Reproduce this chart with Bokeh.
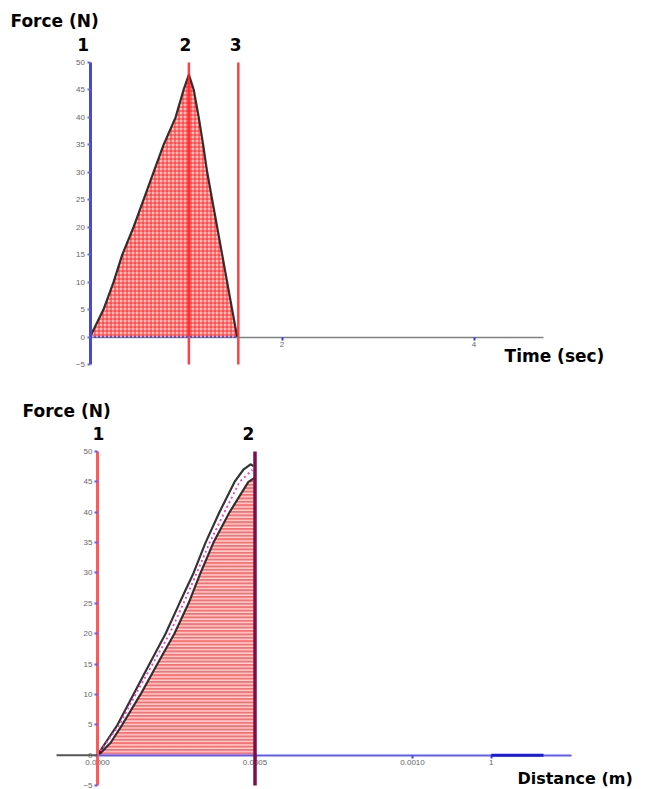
from bokeh.plotting import figure
from bokeh.layouts import column
from bokeh.models import Range1d, LinearAxis, FixedTicker, Label
from bokeh.embed import file_html
from bokeh.resources import INLINE

# ---- Impulse: force against time (triangular pulse) ----
time_rise = [0.0, 0.14, 0.245, 0.336, 0.453, 0.557, 0.661, 0.766, 0.891, 0.974, 1.03]
force_rise = [0, 5, 10, 15, 20, 25, 30, 35, 40, 45, 47.8]
time_fall = [1.081, 1.133, 1.179, 1.221, 1.273, 1.325, 1.377, 1.429, 1.481, 1.533]
force_fall = [45, 40, 35, 30, 25, 20, 15, 10, 5, 0]
time_markers = [0.0, 1.03, 1.545]
time_marker_names = ["1", "2", "3"]
time_ticks = [2, 4]
time_axis_end = 4.72

# ---- Work: force against distance ----
dist_upper = [0.0, 0.000025, 0.0000635, 0.000114, 0.000165, 0.000216, 0.000260,
              0.000305, 0.000343, 0.000387, 0.000435, 0.000463, 0.000486, 0.000495]
force_upper = [0, 2, 5, 10, 15, 20, 25, 30, 35, 40, 45, 47, 47.9, 47.6]
dist_mid = [0.0, 0.0000698, 0.000121, 0.000175, 0.000229, 0.000273, 0.000315,
            0.000356, 0.000403, 0.000451, 0.000492]
force_mid = [0, 5, 10, 15, 20, 25, 30, 35, 40, 45, 47]
dist_lower = [0.000003, 0.000041, 0.0000784, 0.0001365, 0.00019, 0.000244, 0.000289,
              0.000327, 0.000368, 0.000419, 0.000479, 0.0005]
force_lower = [0, 2, 5, 10, 15, 20, 25, 30, 35, 40, 45, 45.7]
dist_markers = [0.0, 0.0005]
dist_marker_names = ["1", "2"]
dist_ticks = [0.0, 0.0005, 0.001, 0.00125]
dist_tick_labels = ["0.0000", "0.0005", "0.0010", "1"]
dist_cursor = [0.00125, 0.001416]
dist_axis_start = -0.00013
dist_axis_end = 0.001505

force_ticks = list(range(-5, 51, 5))
force_bounds = (-5, 50)

HEAD_FONT = "DejaVu Sans"
TICK_FONT = "Liberation Sans"


def base_figure(height, x_range, y_range):
    # the frame fills the whole canvas so that headings outside the axes stay visible
    p = figure(width=649, height=height,
               x_range=Range1d(*x_range), y_range=Range1d(*y_range),
               x_axis_location=None, y_axis_location=None,
               output_backend="svg", toolbar_location=None,
               min_border=0)
    p.grid.visible = False
    p.outline_line_color = None
    p.background_fill_color = "white"
    p.border_fill_color = "white"
    return p


def style_axis(ax, line_color, line_width, tick_color):
    ax.axis_line_color = line_color
    ax.axis_line_width = line_width
    ax.major_tick_line_color = tick_color
    ax.major_tick_line_width = 2
    ax.major_tick_in = 0
    ax.major_tick_out = 3
    ax.minor_tick_line_color = None
    ax.major_label_text_font = TICK_FONT
    ax.major_label_text_font_size = "8px"
    ax.major_label_text_color = "#666666"
    ax.major_label_standoff = 2


def head(p, x, y, text, align="center", size="17px"):
    p.add_layout(Label(x=x, y=y, text=text, text_font=HEAD_FONT,
                       text_font_style="bold", text_font_size=size,
                       text_color="black", text_align=align,
                       text_baseline="middle"))


# ================= top chart =================
p1 = base_figure(392, (-0.9323, 5.828), (-10.10, 61.29))

poly_t = time_rise + time_fall
poly_f = force_rise + force_fall
p1.patch(poly_t, poly_f, fill_color="#ff3030", fill_alpha=0.3,
         hatch_pattern="+", hatch_color="#ff1a1a", hatch_scale=4,
         hatch_weight=1, hatch_alpha=0.9, line_color=None)
p1.line(poly_t, poly_f, line_color="#1e1e1e", line_width=2.2, line_alpha=0.9)
p1.segment(x0=[0], y0=[0], x1=[time_fall[-1]], y1=[0], line_color="#4040ff",
           line_width=1.5, line_dash="2 2", level="overlay")

p1.segment(x0=time_markers[1:], y0=force_bounds[0], x1=time_markers[1:],
           y1=force_bounds[1], line_color="#ff2020", line_width=2.5, line_alpha=0.85)

xa1 = LinearAxis(fixed_location=0, ticker=FixedTicker(ticks=time_ticks),
                 bounds=(0, time_axis_end))
style_axis(xa1, "#808080", 1.5, "#3030ff")
p1.add_layout(xa1, "below")
ya1 = LinearAxis(fixed_location=0, ticker=FixedTicker(ticks=force_ticks),
                 bounds=force_bounds)
style_axis(ya1, "#4a4ac8", 3, "#6a6ad0")
p1.add_layout(ya1, "left")

head(p1, -0.828, 57.5, "Force (N)", "left")
head(p1, -0.07, 53.3, time_marker_names[0])
head(p1, 0.995, 53.3, time_marker_names[1])
head(p1, 1.516, 53.3, time_marker_names[2])
head(p1, 4.318, -3.5, "Time  (sec)", "left")

# ================= bottom chart =================
p2 = base_figure(397, (-0.00030794, 0.00175238), (-5.658, 59.72))

area_d = dist_lower + [dist_lower[-1], dist_lower[0]]
area_f = force_lower + [0, 0]
p2.patch(area_d, area_f, fill_color="#ff4a4a", fill_alpha=0.8,
         hatch_pattern="-", hatch_color="white", hatch_scale=3.4,
         hatch_weight=1.2, hatch_alpha=0.9, line_color=None)
p2.line(dist_upper, force_upper, line_color="#1e1e1e", line_width=2.2, line_alpha=0.9)
p2.line(dist_lower, force_lower, line_color="#1e1e1e", line_width=2.2, line_alpha=0.9)
p2.line(dist_mid, force_mid, line_color="#ff33cc", line_width=1.8, line_dash="2 3")

xa2 = LinearAxis(fixed_location=0, ticker=FixedTicker(ticks=dist_ticks),
                 bounds=(0, dist_axis_end),
                 major_label_overrides=dict(zip(dist_ticks, dist_tick_labels)))
style_axis(xa2, "#5a5aff", 2, "#4040ff")
p2.add_layout(xa2, "below")
ya2 = LinearAxis(fixed_location=0, ticker=FixedTicker(ticks=force_ticks),
                 bounds=force_bounds)
style_axis(ya2, "#ff5a5a", 3, "#5a5aff")
p2.add_layout(ya2, "left")

# marker 2, the grey stretch of the axis left of the origin, and the cursor span
p2.segment(x0=[dist_markers[1]], y0=[force_bounds[0]], x1=[dist_markers[1]],
           y1=[force_bounds[1]], line_color="#7a1048", line_width=3.5, level="overlay")
p2.segment(x0=[dist_axis_start], y0=[0], x1=[0], y1=[0], line_color="#555555",
           line_width=2, level="overlay")
p2.segment(x0=[dist_cursor[0]], y0=[0], x1=[dist_cursor[1]], y1=[0],
           line_color="#1a1ae6", line_width=3, level="overlay")

head(p2, -0.000238, 56.6, "Force (N)", "left")
head(p2, 0.000003, 53.0, dist_marker_names[0])
head(p2, 0.000479, 53.0, dist_marker_names[1])
head(p2, 0.001333, -3.85, "Distance  (m)", "left", "16px")

layout = column(p1, p2)
open("out.html", "w").write(file_html(layout, INLINE))
